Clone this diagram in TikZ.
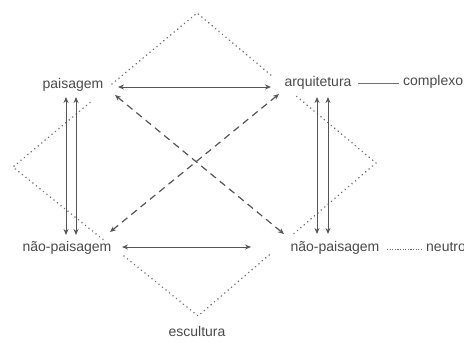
\documentclass[tikz,border=0pt]{standalone}
\usepackage{fontspec}
\setmainfont{Liberation Sans}
\usetikzlibrary{arrows.meta}
\definecolor{txtgray}{HTML}{4A4A4A}
\definecolor{arrgray}{HTML}{555555}
\definecolor{dotgray}{HTML}{707070}
\tikzset{
  lbl/.style={font=\fontsize{14}{16}\selectfont, text=txtgray, inner sep=0pt, anchor=base},
  dotline/.style={draw=dotgray, line width=1.7pt, line cap=round, dash pattern=on 0.1pt off 4.4pt},
  dashline/.style={draw=arrgray, line width=1.2pt, dash pattern=on 7pt off 5pt, {Stealth[length=6pt,width=5pt]}-{Stealth[length=6pt,width=5pt]}},
  solidarrow/.style={draw=arrgray, line width=1pt, {Stealth[length=6pt,width=5pt]}-{Stealth[length=6pt,width=5pt]}},
  thinlink/.style={draw=dotgray, line width=0.6pt},
  dotlink/.style={draw=dotgray, line width=0.9pt, dash pattern=on 1.2pt off 1.4pt}
}
\begin{document}
\begin{tikzpicture}[x=1pt,y=-1pt]
\useasboundingbox (0,0) rectangle (464,343);
% labels
\node[lbl] (pais) at (73,88) {paisagem};
\node[lbl] (arq) at (318,86) {arquitetura};
\node[lbl, anchor=base west] (compl) at (403,85) {complexo};
\node[lbl] (npl) at (67,251) {não-paisagem};
\node[lbl] (npr) at (335,251) {não-paisagem};
\node[lbl, anchor=base west] (neut) at (426,251) {neutro};
\node[lbl] (esc) at (197,336) {escultura};
% diamond vertices
\coordinate (T) at (197,13);
\coordinate (L) at (13,167);
\coordinate (B) at (198,316);
\coordinate (R) at (376,163);
% gap points
\coordinate (tl1) at (112,84);
\coordinate (tl2) at (90,102.5);
\coordinate (tr1) at (272,76);
\coordinate (tr2) at (295,95);
\coordinate (bl1) at (103,239.5);
\coordinate (bl2) at (124,256);
\coordinate (br1) at (272,252.5);
\coordinate (br2) at (294,233.5);
% dotted diamond
\draw[dotline] (tl1) -- (T) -- (tr1);
\draw[dotline] (tl2) -- (L) -- (bl1);
\draw[dotline] (bl2) -- (B) -- (br1);
\draw[dotline] (br2) -- (R) -- (tr2);
% arrow end points
\coordinate (hA1) at (118,87);
\coordinate (hA2) at (271,87);
\coordinate (hB1) at (122,247);
\coordinate (hB2) at (251,247);
\coordinate (vL1t) at (66,97);
\coordinate (vL1b) at (66,235);
\coordinate (vL2t) at (76,97);
\coordinate (vL2b) at (76,235);
\coordinate (vR1t) at (317,97);
\coordinate (vR1b) at (317,234);
\coordinate (vR2t) at (328,97);
\coordinate (vR2b) at (328,234);
\coordinate (d1a) at (115,95);
\coordinate (d1b) at (284,234);
\coordinate (d2a) at (279,94);
\coordinate (d2b) at (110,232);
% solid arrows
\draw[solidarrow] (hA1) -- (hA2);
\draw[solidarrow] (hB1) -- (hB2);
\draw[solidarrow] (vL1t) -- (vL1b);
\draw[solidarrow] (vL2t) -- (vL2b);
\draw[solidarrow] (vR1t) -- (vR1b);
\draw[solidarrow] (vR2t) -- (vR2b);
% dashed diagonals
\draw[dashline] (d1a) -- (d1b);
\draw[dashline] (d2a) -- (d2b);
% links to complexo / neutro
\coordinate (c1) at (358,83);
\coordinate (c2) at (399,83);
\coordinate (n1) at (387,249);
\coordinate (n2) at (423,249);
\draw[thinlink] (c1) -- (c2);
\draw[dotlink] (n1) -- (n2);
\end{tikzpicture}
\end{document}
